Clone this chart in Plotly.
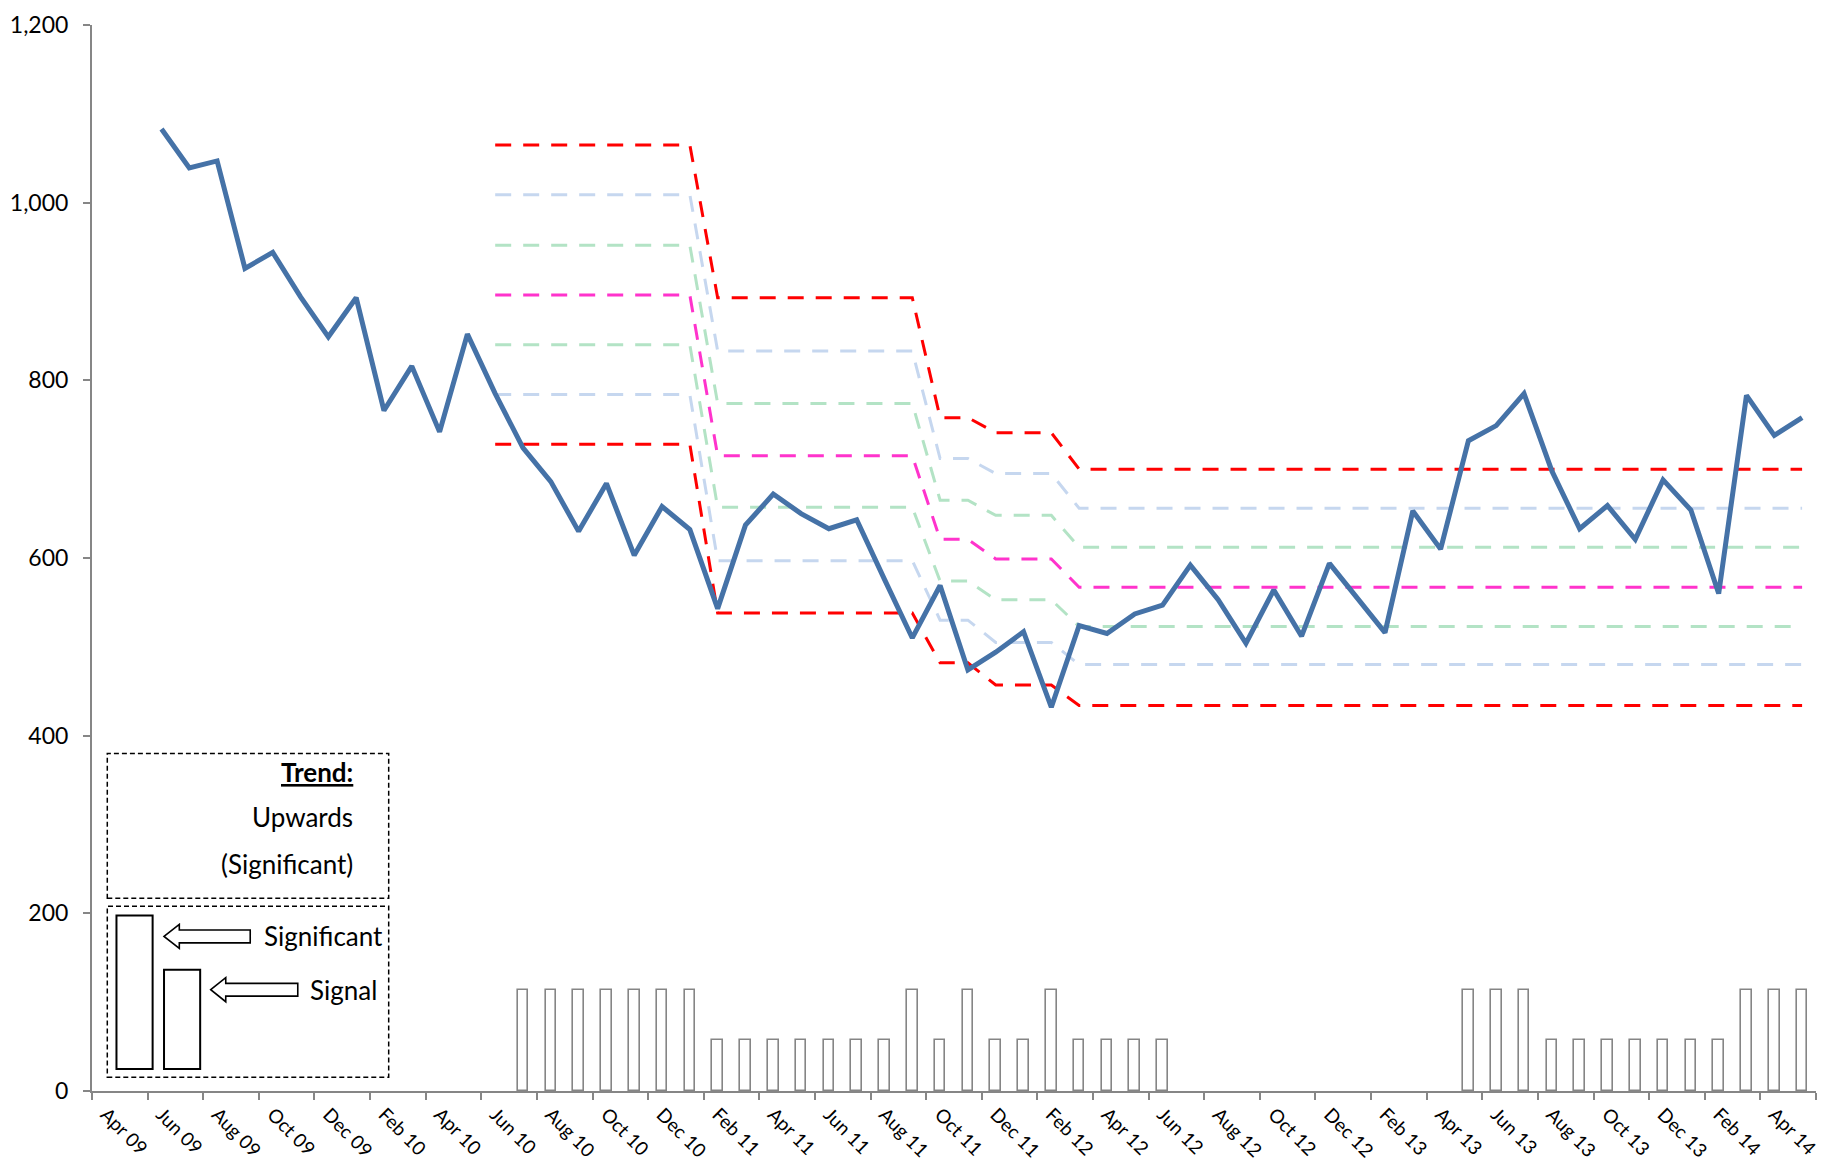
import plotly.graph_objects as go

# ---------------- data ----------------
categories = ["Apr 09", "May 09", "Jun 09", "Jul 09", "Aug 09", "Sep 09", "Oct 09", "Nov 09", "Dec 09",
              "Jan 10", "Feb 10", "Mar 10", "Apr 10", "May 10", "Jun 10", "Jul 10", "Aug 10", "Sep 10",
              "Oct 10", "Nov 10", "Dec 10", "Jan 11", "Feb 11", "Mar 11", "Apr 11", "May 11", "Jun 11",
              "Jul 11", "Aug 11", "Sep 11", "Oct 11", "Nov 11", "Dec 11", "Jan 12", "Feb 12", "Mar 12",
              "Apr 12", "May 12", "Jun 12", "Jul 12", "Aug 12", "Sep 12", "Oct 12", "Nov 12", "Dec 12",
              "Jan 13", "Feb 13", "Mar 13", "Apr 13", "May 13", "Jun 13", "Jul 13", "Aug 13", "Sep 13",
              "Oct 13", "Nov 13", "Dec 13", "Jan 14", "Feb 14", "Mar 14", "Apr 14", "May 14"]

values = [None, None, 1083, 1039, 1047, 926, 944, 894, 849, 893, 766, 816, 742, 852, 785, 724,
          686, 630, 684, 603, 658, 632, 543, 637, 672, 650, 633, 643, 576, 510, 569, 474, 494,
          517, 432, 524, 515, 537, 547, 592, 553, 504, 564, 512, 594, 554, 516, 653, 610, 732,
          749, 785, 698, 633, 659, 621, 688, 654, 560, 783, 738, 758]

signal_bars = [None] * 15 + [114] * 7 + [57] * 7 + [114, 57, 114, 57, 57, 114] + [57] * 4 \
    + [None] * 10 + [114] * 3 + [57] * 7 + [114] * 3

# control-limit segments (first index, last index) and the level of each line per segment
segments = [(14, 21), (22, 29), (30, 31), (32, 34), (35, 61)]
ucl = [1065, 893, 758, 741, 700]
upper2 = [1009, 833, 712, 695, 656]
upper1 = [952, 774, 665, 648, 612]
center = [896, 715, 621, 599, 567]
lower1 = [840, 657, 574, 553, 523]
lower2 = [784, 597, 530, 505, 480]
lcl = [728, 538, 482, 457, 434]

tick_labels = categories[::2]

# ---------------- figure ----------------
n = len(categories)
xs = list(range(n))


def expand(levels):
    out = [None] * n
    for (a, b), v in zip(segments, levels):
        for i in range(a, b + 1):
            out[i] = v
    return out


fig = go.Figure()

fig.add_trace(go.Bar(x=xs, y=signal_bars, width=0.38,
                     marker=dict(color="white", line=dict(color="#858585", width=1.6)),
                     showlegend=False, hoverinfo="skip"))

DASH = "16px,12px"
pale_blue = "#c6d7ef"
pale_green = "#b3e3c5"
for lv, col in [(upper2, pale_blue), (lower2, pale_blue), (upper1, pale_green), (lower1, pale_green),
                (center, "#ff33cc"), (ucl, "#ff0000"), (lcl, "#ff0000")]:
    fig.add_trace(go.Scatter(x=xs, y=expand(lv), mode="lines",
                             line=dict(color=col, width=3, dash=DASH),
                             connectgaps=False, showlegend=False, hoverinfo="skip"))

fig.add_trace(go.Scatter(x=xs, y=values, mode="lines",
                         line=dict(color="#4572a7", width=5),
                         showlegend=False))

# ---------------- legend-like key ----------------
shapes = []
box = dict(type="rect", xref="x", yref="y", line=dict(color="black", width=1.5, dash="5px,3px"),
           fillcolor="rgba(0,0,0,0)", layer="above")
shapes.append(dict(box, x0=0.05, x1=10.17, y0=217, y1=380))
shapes.append(dict(box, x0=0.05, x1=10.17, y0=15.6, y1=208))
solid = dict(type="rect", xref="x", yref="y", line=dict(color="black", width=2),
             fillcolor="white", layer="above")
shapes.append(dict(solid, x0=0.38, x1=1.68, y0=24.7, y1=197.6))
shapes.append(dict(solid, x0=2.09, x1=3.39, y0=24.7, y1=136.5))


def arrow(tip, base, end, yc, hh=13.5, sh=7.2):
    return (f"M {tip},{yc} L {base},{yc + hh} L {base},{yc + sh} L {end},{yc + sh} "
            f"L {end},{yc - sh} L {base},{yc - sh} L {base},{yc - hh} Z")


shapes.append(dict(type="path", xref="x", yref="y", path=arrow(2.09, 2.64, 5.19, 174),
                   line=dict(color="black", width=1.6), fillcolor="white", layer="above"))
shapes.append(dict(type="path", xref="x", yref="y", path=arrow(3.77, 4.31, 6.9, 114),
                   line=dict(color="black", width=1.6), fillcolor="white", layer="above"))

FONT = "Lato, Calibri, Carlito, sans-serif"
ann_font = dict(family=FONT, size=26, color="black")
annotations = [
    dict(x=8.95, y=359, text="<b><u>Trend:</u></b>", xanchor="right", yanchor="middle"),
    dict(x=8.95, y=308, text="Upwards", xanchor="right", yanchor="middle"),
    dict(x=8.95, y=255, text="(Significant)", xanchor="right", yanchor="middle"),
    dict(x=5.62, y=174, text="Significant", xanchor="left", yanchor="middle"),
    dict(x=7.25, y=114, text="Signal", xanchor="left", yanchor="middle"),
]
for a in annotations:
    a.update(xref="x", yref="y", showarrow=False, font=ann_font)

axis_col = "#868686"
# the page body adds an 8px offset, so the figure is 8px smaller than the window
fig.update_layout(
    width=1817, height=1160,
    margin=dict(l=84, r=9, t=17, b=77, autoexpand=False),
    paper_bgcolor="white", plot_bgcolor="white",
    bargap=0,
    shapes=shapes, annotations=annotations,
    font=dict(family=FONT, size=23, color="black"),
    xaxis=dict(range=[-0.5, n - 0.5], tickmode="array", automargin=False,
               tickvals=xs[::2], ticktext=tick_labels, tickangle=45,
               ticks="", showgrid=False, zeroline=False, ticklabeloverflow="allow",
               ticklabelstandoff=3,
               showline=True, linecolor=axis_col, linewidth=2,
               tickfont=dict(family=FONT, size=19, color="black"),
               minor=dict(tickmode="array", tickvals=[i - 0.5 for i in range(0, n + 1, 2)],
                          ticks="outside", ticklen=7, tickwidth=2, tickcolor=axis_col, showgrid=False)),
    yaxis=dict(range=[0, 1200], tickmode="linear", tick0=0, dtick=200, tickformat=",",
               automargin=False, ticklabelstandoff=10, ticklabeloverflow="allow",
               ticks="outside", ticklen=7, tickwidth=2, tickcolor=axis_col,
               showgrid=False, zeroline=False, showline=True, linecolor=axis_col, linewidth=2,
               tickfont=dict(family=FONT, size=23, color="black")),
)

fig.write_html("out.html")
